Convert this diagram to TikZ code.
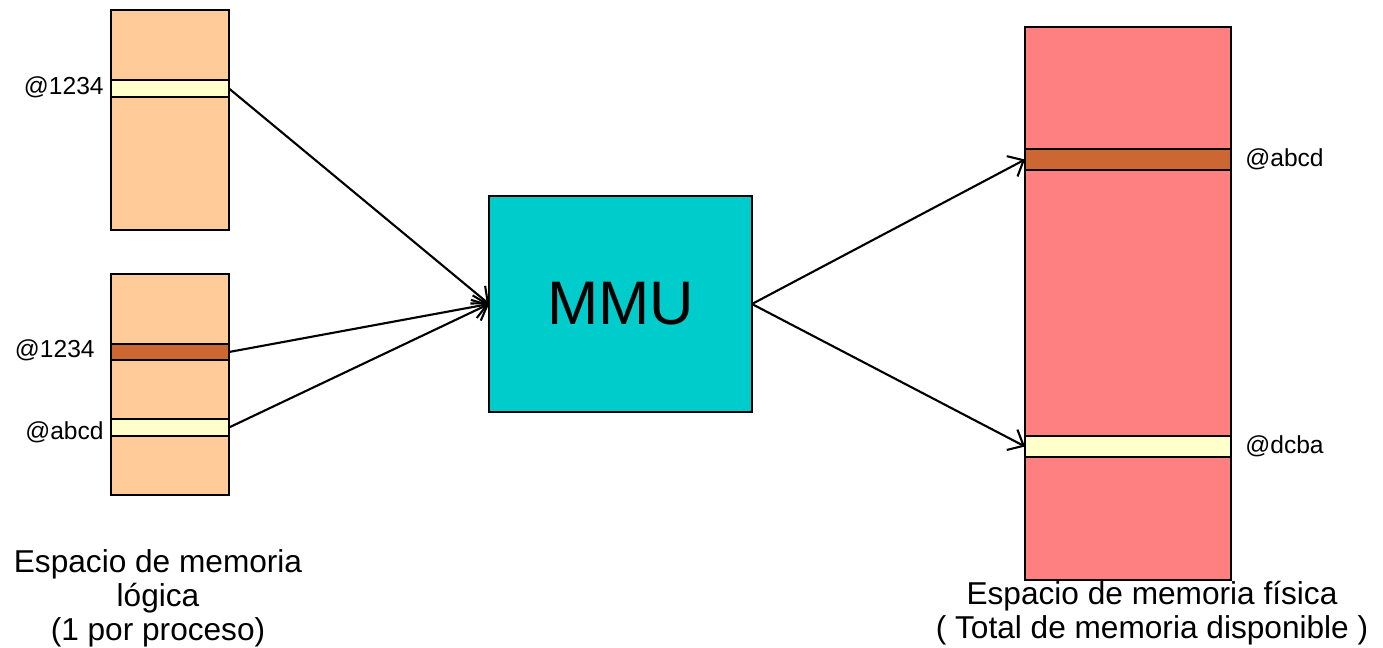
\documentclass[tikz,border=0pt]{standalone}
\usepackage{fontspec}
\setmainfont{Liberation Sans}
\usetikzlibrary{arrows.meta, positioning}
\definecolor{mem-peach}{HTML}{FFCC99}
\definecolor{mem-cream}{HTML}{FFFFCC}
\definecolor{mem-brown}{HTML}{CC6633}
\definecolor{mem-cyan}{HTML}{00CCCC}
\definecolor{mem-pink}{HTML}{FF8080}

\begin{document}
\begin{tikzpicture}[x=0.02cm, y=-0.02cm,
    block/.style={draw, line width=1pt, inner sep=0pt, outer sep=0pt},
    logblock/.style={block, fill=mem-peach, minimum width=2.36cm},
    band/.style={block, minimum width=2.36cm, minimum height=0.34cm},
    physband/.style={block, minimum width=4.12cm, minimum height=0.42cm},
    addr/.style={font=\fontsize{14}{16}\selectfont, inner sep=0pt},
    caption/.style={align=center, inner sep=0pt, font=\fontsize{18}{19.3}\selectfont},
    link/.style={->, line width=1.2pt},
    >={Straight Barb[length=2.6mm, width=4.6mm]}]
  \useasboundingbox (0,0) rectangle (1383,647);

  % logical memory, two processes
  \node[logblock, minimum height=4.4cm] (proc1) at (170,120) {};
  \node[band, fill=mem-cream] (p1a) at (170,88.5) {};
  \node[logblock, minimum height=4.42cm] (proc2) at (170,384.5) {};
  \node[band, fill=mem-brown, minimum height=0.32cm] (p2a) at (170,352) {};
  \node[band, fill=mem-cream] (p2b) at (170,427.5) {};

  \node[addr, anchor=east] (l1) at (104,87) {@1234};
  \node[addr, anchor=east] (l2) at (95,350) {@1234};
  \node[addr, anchor=east] (l3) at (104,432) {@abcd};

  % MMU
  \node[block, fill=mem-cyan, minimum width=5.26cm, minimum height=4.32cm,
        font=\fontsize{35}{40}\selectfont] (mmu) at (620.5,304) {MMU};

  % physical memory
  \node[block, fill=mem-pink, minimum width=4.12cm, minimum height=11.06cm] (phys) at (1128,303.5) {};
  \node[physband, fill=mem-brown] (fa) at (1128,159.5) {};
  \node[physband, fill=mem-cream] (fb) at (1128,446.5) {};

  \node[addr, anchor=west] (r1) at (1245,159) {@abcd};
  \node[addr, anchor=west] (r2) at (1245,446) {@dcba};

  \node[caption] (capl) at (158,598) {Espacio de memoria\\lógica\\(1 por proceso)};
  \node[caption] (capr) at (1152,613) {Espacio de memoria física\\( Total de memoria disponible )};

  \draw[link] (p1a.east) -- (mmu.west);
  \draw[link] (p2a.east) -- (mmu.west);
  \draw[link] (p2b.east) -- (mmu.west);
  \draw[link] (mmu.east) -- (fa.west);
  \draw[link] (mmu.east) -- (fb.west);
\end{tikzpicture}
\end{document}
